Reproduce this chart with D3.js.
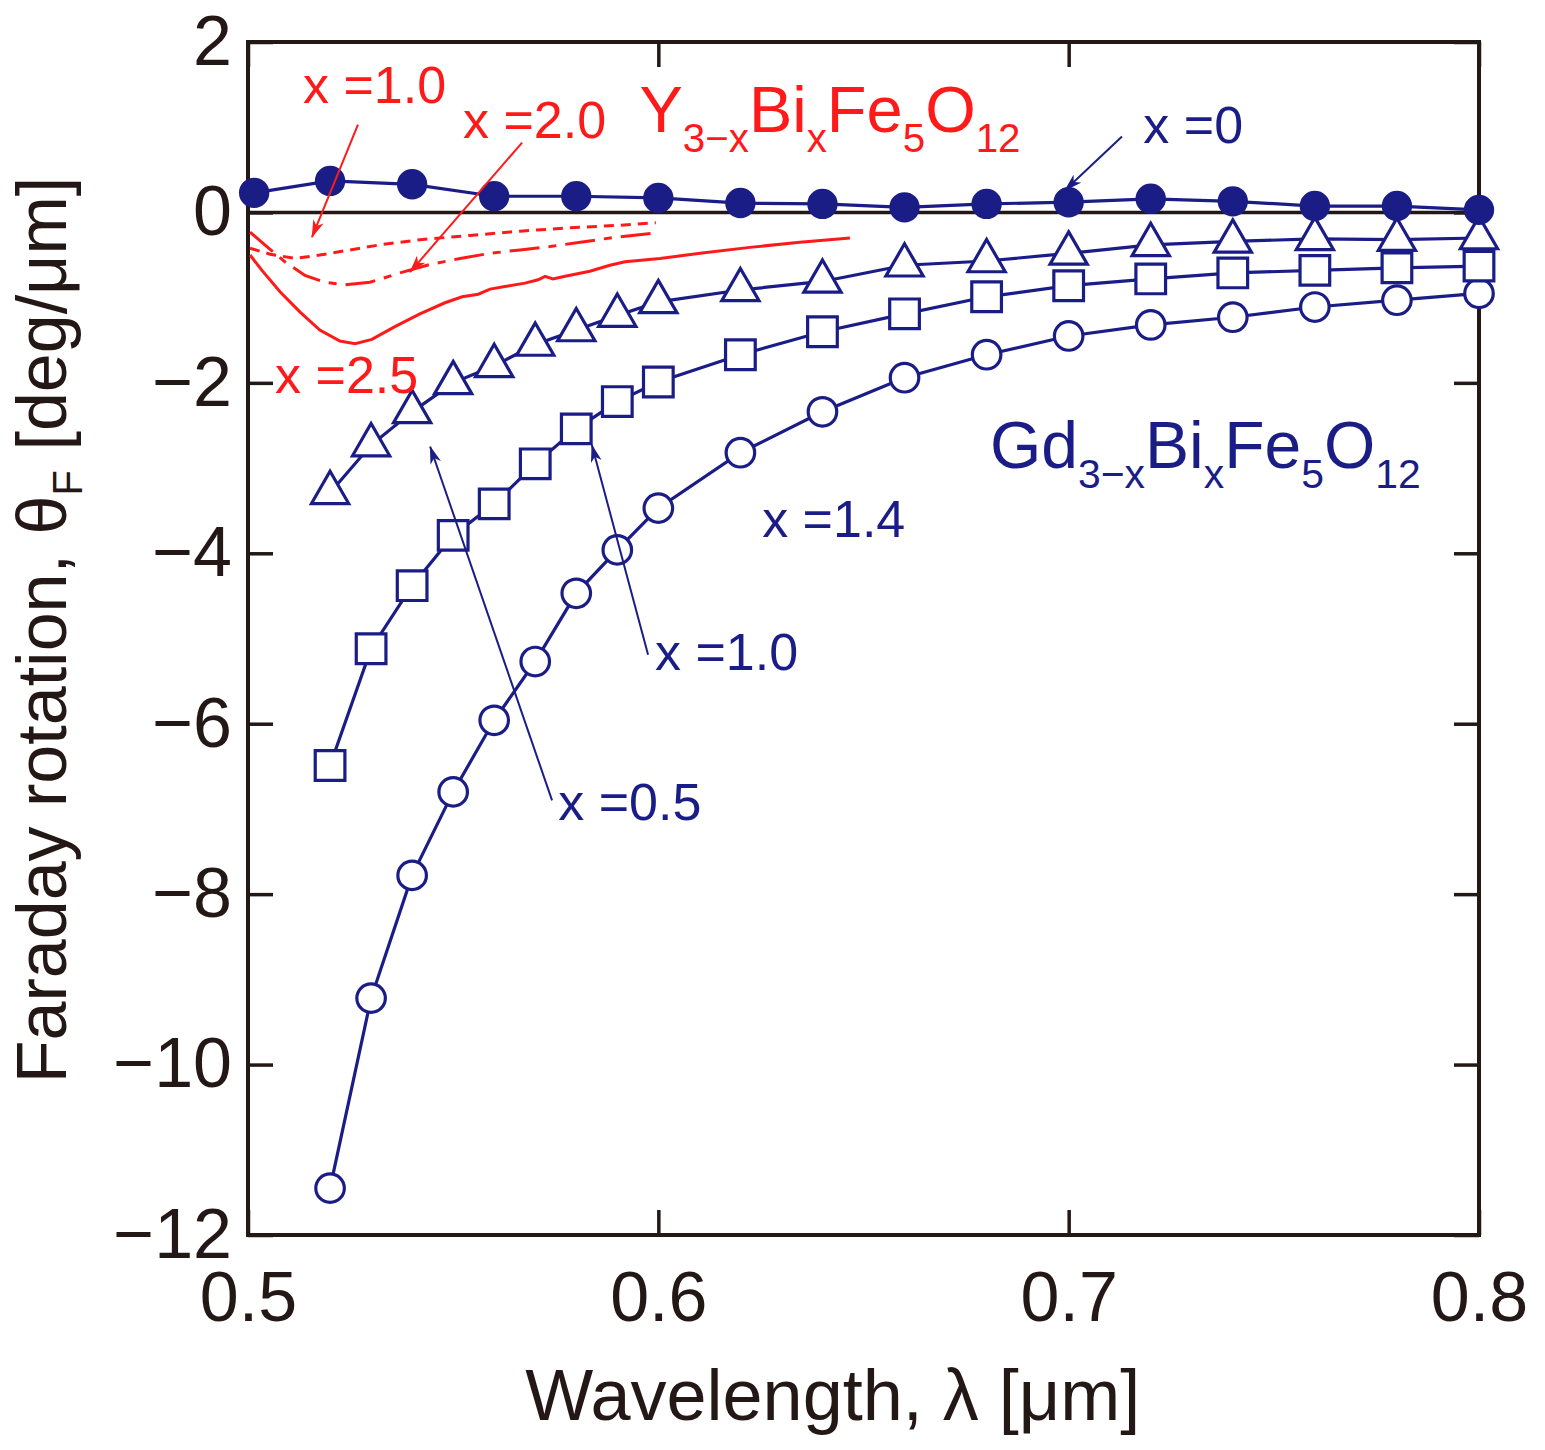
<!DOCTYPE html>
<html>
<head>
<meta charset="utf-8">
<script src="https://cdn.jsdelivr.net/npm/d3@7"></script>
<style>
  body { margin: 0; background: #fff; }
  text { font-family: "Liberation Sans", Arial, sans-serif; }
</style>
</head>
<body>
<svg id="chart" width="1545" height="1450"></svg>
<script>
// Gd(3-x)Bi(x)Fe5O12 measured points (wavelength in um)
var lamX0 = [0.5015, 0.52, 0.54, 0.56, 0.58, 0.60, 0.62, 0.64, 0.66, 0.68, 0.70, 0.72, 0.74, 0.76, 0.78, 0.80];
var valX0 = [0.23, 0.37, 0.33, 0.19, 0.19, 0.17, 0.11, 0.10, 0.06, 0.10, 0.12, 0.16, 0.13, 0.075, 0.075, 0.03];

var lamGd = [0.52, 0.53, 0.54, 0.55, 0.56, 0.57, 0.58, 0.59, 0.60, 0.62, 0.64, 0.66, 0.68, 0.70, 0.72, 0.74, 0.76, 0.78, 0.80];
var valX05 = [-3.29, -2.73, -2.34, -2.00, -1.80, -1.55, -1.38, -1.21, -1.05, -0.91, -0.81, -0.62, -0.57, -0.48, -0.38, -0.34, -0.31, -0.32, -0.30];
var valX10 = [-6.49, -5.12, -4.38, -3.79, -3.42, -2.95, -2.54, -2.22, -1.99, -1.67, -1.40, -1.19, -0.99, -0.86, -0.78, -0.71, -0.68, -0.65, -0.63];
var valX14 = [-11.45, -9.22, -7.78, -6.80, -5.96, -5.27, -4.47, -3.96, -3.47, -2.82, -2.34, -1.94, -1.67, -1.45, -1.32, -1.23, -1.11, -1.03, -0.95];

// Y(3-x)Bi(x)Fe5O12 spectra (red curves)
var lamY10 = [0.5005, 0.5054, 0.5115, 0.5175, 0.5249, 0.5322, 0.5419, 0.5541, 0.5663, 0.5785, 0.5907, 0.5994];
var valY10 = [-0.42, -0.49, -0.54, -0.50, -0.44, -0.38, -0.32, -0.27, -0.22, -0.18, -0.15, -0.12];
var lamY20 = [0.5005, 0.5041, 0.509, 0.5139, 0.5188, 0.5236, 0.5297, 0.537, 0.5444, 0.5517, 0.559, 0.5663, 0.5736, 0.581, 0.5882, 0.5994];
var valY20 = [-0.23, -0.38, -0.58, -0.74, -0.82, -0.85, -0.82, -0.71, -0.61, -0.54, -0.48, -0.44, -0.40, -0.35, -0.30, -0.24];
var lamY25 = [0.5005, 0.5034, 0.5078, 0.5127, 0.5175, 0.5224, 0.5261, 0.5302, 0.5358, 0.5419, 0.548, 0.5522, 0.5561, 0.559, 0.5626, 0.5675, 0.5707, 0.5724, 0.5743, 0.5773, 0.5833, 0.5882, 0.5919, 0.6004, 0.6102, 0.6223, 0.6345, 0.6467];
var valY25 = [-0.50, -0.68, -0.93, -1.17, -1.38, -1.51, -1.54, -1.49, -1.34, -1.19, -1.06, -0.99, -0.96, -0.90, -0.87, -0.83, -0.79, -0.75, -0.78, -0.75, -0.69, -0.62, -0.58, -0.54, -0.48, -0.41, -0.35, -0.30];

var xTicks = [0.5, 0.6, 0.7, 0.8];
var yTicks = [2, 0, -2, -4, -6, -8, -10, -12];

var BLUE = "#1b1d87", RED = "#ff1a1a", INK = "#231815";

var margin = { top: 42, right: 66, bottom: 215, left: 248 },
  width = 1545 - margin.left - margin.right,
  height = 1450 - margin.top - margin.bottom;

var svg = d3.select("#chart");
var defs = svg.append("defs");
[["arRed", RED], ["arBlue", BLUE]].forEach(function (a) {
  defs.append("marker")
    .attr("id", a[0])
    .attr("viewBox", "0 0 18 12")
    .attr("refX", 17).attr("refY", 6)
    .attr("markerWidth", 18).attr("markerHeight", 12)
    .attr("markerUnits", "userSpaceOnUse")
    .attr("orient", "auto")
    .append("path")
    .attr("d", "M0,0.5 L18,6 L0,11.5 L5,6 Z")
    .attr("fill", a[1]);
});

var g = svg.append("g")
  .attr("transform", "translate(" + margin.left + "," + margin.top + ")");

var x = d3.scaleLinear().domain([0.5, 0.8]).range([0, width]);
var y = d3.scaleLinear().domain([-12, 2]).range([height, 0]);

// zero line
g.append("line")
  .attr("x1", 0).attr("x2", width)
  .attr("y1", y(0)).attr("y2", y(0))
  .attr("stroke", INK).attr("stroke-width", 3.5);

// axes with inward ticks on all sides
function styleAxis(sel) {
  sel.select(".domain").remove();
  sel.selectAll(".tick line").attr("stroke", INK).attr("stroke-width", 3.5);
  sel.selectAll("text").attr("fill", INK).style("font-size", "70px")
    .style("font-family", "'Liberation Sans', Arial, sans-serif");
}
g.append("g").attr("transform", "translate(0," + height + ")")
  .call(d3.axisBottom(x).tickValues(xTicks).tickSize(-25).tickPadding(36).tickFormat(d3.format(".1f")))
  .call(styleAxis);
g.append("g")
  .call(d3.axisTop(x).tickValues(xTicks).tickSize(-25).tickFormat(""))
  .call(styleAxis);
g.append("g")
  .call(d3.axisLeft(y).tickValues(yTicks).tickSize(-25).tickPadding(16)
    .tickFormat(function (d) { return d < 0 ? "\u2212" + Math.abs(d) : d; }))
  .call(styleAxis);
g.append("g").attr("transform", "translate(" + width + ",0)")
  .call(d3.axisRight(y).tickValues(yTicks).tickSize(-25).tickFormat(""))
  .call(styleAxis);

g.append("rect")
  .attr("width", width).attr("height", height)
  .attr("fill", "none").attr("stroke", INK).attr("stroke-width", 4);

// red spectra
var line = d3.line().x(function (d) { return x(d[0]); }).y(function (d) { return y(d[1]); });
function pairs(a, b) { return a.map(function (v, i) { return [v, b[i]]; }); }
g.append("path").datum(pairs(lamY10, valY10)).attr("d", line)
  .attr("fill", "none").attr("stroke", RED).attr("stroke-width", 3).attr("stroke-dasharray", "10,7");
g.append("path").datum(pairs(lamY20, valY20)).attr("d", line)
  .attr("fill", "none").attr("stroke", RED).attr("stroke-width", 3).attr("stroke-dasharray", "30,9,8,9");
g.append("path").datum(pairs(lamY25, valY25)).attr("d", line)
  .attr("fill", "none").attr("stroke", RED).attr("stroke-width", 3);

// blue series
function drawSeries(lams, vals, shape, filled) {
  var data = pairs(lams, vals);
  g.append("path").datum(data).attr("d", line)
    .attr("fill", "none").attr("stroke", BLUE).attr("stroke-width", 3.2);
  g.append("g").selectAll("path").data(data).enter().append("path")
    .attr("transform", function (d) { return "translate(" + x(d[0]) + "," + y(d[1]) + ")"; })
    .attr("d", d3.symbol().type(shape.type).size(shape.size))
    .attr("fill", filled ? BLUE : "#fff")
    .attr("stroke", BLUE).attr("stroke-width", 3.2);
}
drawSeries(lamGd, valX14, { type: d3.symbolCircle, size: 640 }, false);
drawSeries(lamGd, valX10, { type: d3.symbolSquare, size: 880 }, false);
drawSeries(lamGd, valX05, { type: d3.symbolTriangle, size: 600 }, false);
drawSeries(lamX0, valX0, { type: d3.symbolCircle, size: 580 }, true);

// annotation arrows [lam0, v0, lam1, v1, colour]
var arrows = [
  [0.5268, 1.03, 0.5156, -0.29, "Red"],
  [0.5668, 0.82, 0.5395, -0.70, "Red"],
  [0.7130, 0.89, 0.6991, 0.26, "Blue"],
  [0.5975, -5.19, 0.5838, -2.73, "Blue"],
  [0.5741, -6.90, 0.5444, -2.75, "Blue"]
];
arrows.forEach(function (a) {
  g.append("line")
    .attr("x1", x(a[0])).attr("y1", y(a[1]))
    .attr("x2", x(a[2])).attr("y2", y(a[3]))
    .attr("stroke", a[4] === "Red" ? RED : BLUE).attr("stroke-width", 2)
    .attr("marker-end", "url(#ar" + a[4] + ")");
});

// labels [lam, v, text, colour]
var labels = [
  [0.5134, 1.28, "x =1.0", RED],
  [0.5524, 0.87, "x =2.0", RED],
  [0.5066, -2.12, "x =2.5", RED],
  [0.7182, 0.82, "x =0", BLUE],
  [0.6253, -3.81, "x =1.4", BLUE],
  [0.5992, -5.37, "x =1.0", BLUE],
  [0.5756, -7.13, "x =0.5", BLUE]
];
labels.forEach(function (l) {
  g.append("text").attr("x", x(l[0])).attr("y", y(l[1]))
    .attr("fill", l[3]).style("font-size", "52px").text(l[2]);
});

// formula labels with subscripts
function formula(lam, v, parts, colour, size) {
  var t = g.append("text").attr("x", x(lam)).attr("y", y(v))
    .attr("fill", colour).style("font-size", size + "px");
  var down = false;
  parts.forEach(function (p) {
    var sub = p[1];
    var ts = t.append("tspan").text(p[0]);
    if (sub) ts.style("font-size", (size * 0.62) + "px");
    if (sub && !down) { ts.attr("dy", size * 0.3); down = true; }
    else if (!sub && down) { ts.attr("dy", -size * 0.3); down = false; }
  });
}
formula(0.5954, 0.94, [["Y", 0], ["3\u2212x", 1], ["Bi", 0], ["x", 1], ["Fe", 0], ["5", 1], ["O", 0], ["12", 1]], RED, 65);
formula(0.6808, -3.0, [["Gd", 0], ["3\u2212x", 1], ["Bi", 0], ["x", 1], ["Fe", 0], ["5", 1], ["O", 0], ["12", 1]], BLUE, 66);

// axis titles
svg.append("text")
  .attr("x", margin.left + x(0.6425)).attr("y", 1420)
  .attr("text-anchor", "middle").attr("fill", INK)
  .style("font-size", "72px")
  .text("Wavelength, \u03bb [\u03bcm]");

var yt = svg.append("text")
  .attr("transform", "translate(66,630) rotate(-90)")
  .attr("text-anchor", "middle").attr("fill", INK)
  .style("font-size", "70px");
yt.append("tspan").text("Faraday rotation, \u03b8");
yt.append("tspan").text("F").attr("dy", 16).style("font-size", "42px");
yt.append("tspan").text(" [deg/\u03bcm]").attr("dy", -16);
</script>
</body>
</html>
